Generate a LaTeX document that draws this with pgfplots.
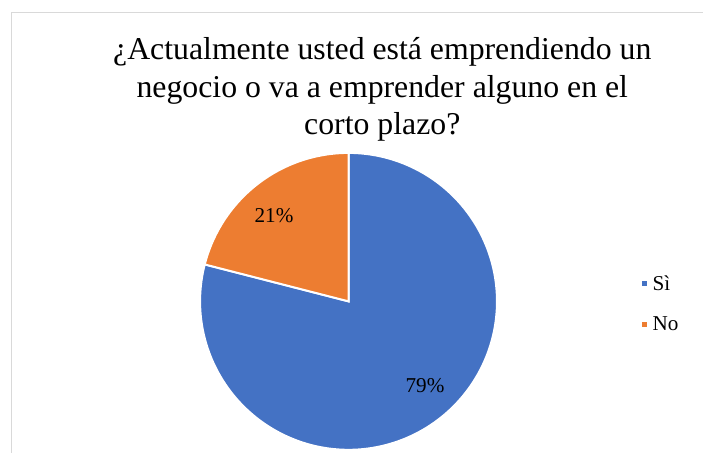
\documentclass[border=0pt]{standalone}
\usepackage{fontspec}
\setmainfont{Liberation Serif}
\usepackage{pgfplots}
\usepackage{pgfplotstable}
\pgfplotsset{compat=1.18}
\definecolor{pieblue}{HTML}{4472C4}
\definecolor{pieorange}{HTML}{ED7D31}
\definecolor{framegray}{HTML}{D9D9D9}
\pgfplotstableread{
label value
Si 79
No 21
}\piedata
\begin{document}
\pgfplotstablegetelem{0}{value}\of\piedata\let\vA\pgfplotsretval
\pgfplotstablegetelem{1}{value}\of\piedata\let\vB\pgfplotsretval
\pgfmathsetmacro\aEnd{90-3.6*\vA}
\pgfmathsetmacro\bEnd{90+3.6*\vB}
\begin{tikzpicture}
\useasboundingbox (0,0) rectangle (703pt,456pt);
\fill[white] (0,0) rectangle (703pt,456pt);
\draw[framegray, line width=1pt] (6.5pt,0) -- (6.5pt,443.5pt) -- (703pt,443.5pt);
\begin{axis}[at={(0,0)},anchor=south west, width=703pt,height=456pt, scale only axis,
  xmin=0,xmax=703,ymin=0,ymax=456, hide axis, clip=false,
  legend cell align=left,
  legend style={draw=none, fill=none, at={(axis cs:639,150)}, anchor=west,
    font=\fontsize{21.3}{25}\selectfont, row sep=21pt, inner sep=0pt,
    nodes={inner sep=2pt}},
  legend image code/.code={\fill[#1] (0pt,-3.5pt) rectangle (7pt,3.5pt);}]
\addplot[fill=pieblue, draw=white, line width=2pt, domain=90:\aEnd, samples=300]
  ({346+149.5*cos(x)},{152.5+149.5*sin(x)}) -- (axis cs:346,152.5) -- cycle;
\addlegendentry{\hspace{2pt}Sì}
\addplot[fill=pieorange, draw=white, line width=2pt, domain=90:\bEnd, samples=100]
  ({346+149.5*cos(x)},{152.5+149.5*sin(x)}) -- (axis cs:346,152.5) -- cycle;
\addlegendentry{\hspace{2pt}No}
\node[font=\fontsize{21.3}{25}\selectfont] at (axis cs:271,239) {21\%};
\node[font=\fontsize{21.3}{25}\selectfont] at (axis cs:423,68) {79\%};
\node[font=\fontsize{32}{38}\selectfont, align=center] at (axis cs:380,366)
  {¿Actualmente usted está emprendiendo un\\negocio o va a emprender alguno en el\\corto plazo?};
\end{axis}
\end{tikzpicture}
\end{document}
